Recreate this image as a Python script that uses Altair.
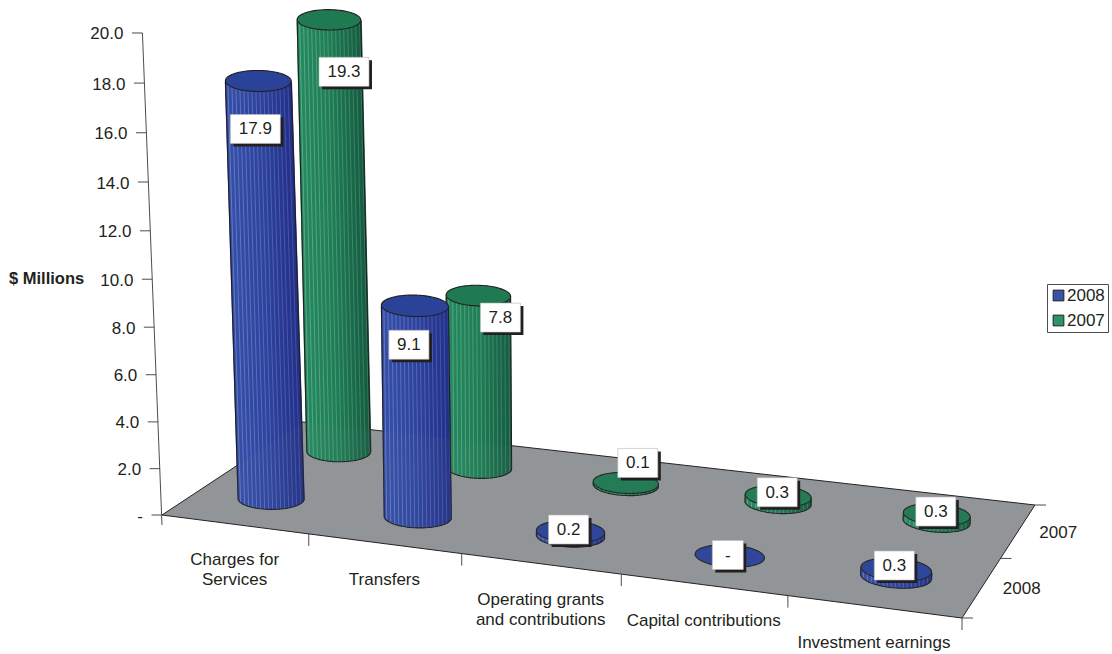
import altair as alt
import numpy as np
import pandas as pd

# Chart values
categories = [["Charges for", "Services"], ["Transfers"],
              ["Operating grants", "and contributions"],
              ["Capital contributions"], ["Investment earnings"]]
series_names = ["2008", "2007"]
values_2008 = [17.9, 9.1, 0.2, 0.0, 0.3]
values_2007 = [19.3, 7.8, 0.1, 0.3, 0.3]
axis_ticks = [0, 2, 4, 6, 8, 10, 12, 14, 16, 18, 20]

# Nudges that keep each value box clear of its column top
box_nudge_2008 = [(-3, 48), (-6, 39), (-2, -2), (-2, -1), (-2, -4)]
box_nudge_2007 = [(15, 52), (22, 22), (12, -20), (-1, -4), (-1, -3)]

W, H = 1112, 654
FONT = "Liberation Sans"
INK = "#231f20"
FLOOR = "#939598"
FONT_SIZE = 17

# Camera: floor plane (u = category, w = series) to canvas, then a vertical column
floor_src = [(0, 0), (5, 0), (5, 2), (0, 2)]
floor_dst = [(162, 515), (962, 618), (1035, 505), (303, 422)]


def homography(src, dst):
    rows, rhs = [], []
    for (u, w), (x, y) in zip(src, dst):
        rows.append([u, w, 1, 0, 0, 0, -x * u, -x * w])
        rows.append([0, 0, 0, u, w, 1, -y * u, -y * w])
        rhs += [x, y]
    h = np.linalg.solve(np.array(rows, float), np.array(rhs, float))
    return np.append(h, 1).reshape(3, 3)


HOM = homography(floor_src, floor_dst)


def fit_vertical(refs):
    rows, rhs = [], []
    for u, w, v, x, y in refs:
        p = np.array([u, w, 1.0])
        rows.append([v, 0, -x * v])
        rhs.append(x * HOM[2] @ p - HOM[0] @ p)
        rows.append([0, v, -y * v])
        rhs.append(y * HOM[2] @ p - HOM[1] @ p)
    return np.linalg.lstsq(np.array(rows), np.array(rhs), rcond=None)[0]


# Columns and the value axis each get their own vertical calibration
VERT = fit_vertical([(.5, .5, 17.9, 258, 81), (.5, 1.5, 19.3, 329, 20),
                     (1.5, .5, 9.1, 415, 305), (1.5, 1.5, 7.8, 479, 296)])
AXIS_VERT = fit_vertical([(0, 0, 20, 143, 33), (0, 0, 14, 147.5, 182),
                          (0, 0, 10, 152.5, 279), (0, 0, 6, 156.5, 375)])


def project(u, w, v=0.0, col=VERT):
    q = HOM @ np.array([u, w, 1.0]) + col * v
    return q[0] / q[2], q[1] / q[2]


def mix(a, b, t):
    return tuple(a[i] + (b[i] - a[i]) * t for i in range(3))


def hexcolor(c):
    return "#%02x%02x%02x" % tuple(int(round(i)) for i in c)


PALETTE = {
    "2008": dict(left=(54, 80, 168), mid=(46, 68, 158), right=(36, 48, 136),
                 glint=(150, 165, 225), cap="#2b4299", key="#3653a6", rx=(32.6, 0.6)),
    "2007": dict(left=(38, 138, 98), mid=(32, 125, 85), right=(22, 92, 66),
                 glint=(140, 205, 170), cap="#1f7a52", key="#2c9568", rx=(31.6, 0.4)),
}

walls, glints, outlines, caps, boxes = {}, {}, {}, {}, []
for series, vals, nudges, w in [("2007", values_2007, box_nudge_2007, 1.5),
                                ("2008", values_2008, box_nudge_2008, 0.5)]:
    pal = PALETTE[series]
    s_rows, g_rows, o_rows, c_rows = [], [], [], []
    for i, val in enumerate(vals):
        u = i + 0.5
        bx, by = project(u, w)
        tx, ty = project(u, w, val)
        rx = pal["rx"][0] + pal["rx"][1] * u
        ry = rx * 0.32
        slope = np.tan(np.radians(0.9 * u))
        cyl = f"{series}-{i}"
        # column wall as overlapping vertical strips, with a lighter glint every fourth
        if val > 0:
            for k, dx in enumerate(np.arange(-rx + 0.5, rx, 1.0)):
                f = dx / rx
                arc = ry * np.sqrt(max(0.0, 1 - f * f))
                t = (f + 1) / 2
                base = mix(pal["left"], pal["mid"], t * 2) if t < .5 else mix(pal["mid"], pal["right"], t * 2 - 1)
                seg = dict(x=tx + dx, y=ty + slope * dx + arc,
                           x2=bx + dx, y2=by + slope * dx + arc, c=hexcolor(base))
                s_rows.append(seg)
                if k % 4 == 2:
                    g_rows.append(dict(seg, c=hexcolor(mix(base, pal["glint"], 0.5 - 0.25 * t))))
            # silhouette: down the left side, along the base arc, up the right side
            path = [(tx - rx, ty - slope * rx)]
            for a in np.linspace(np.pi, 0, 41):
                dx = rx * np.cos(a)
                path.append((bx + dx, by + slope * dx + ry * np.sin(a)))
            path.append((tx + rx, ty + slope * rx))
            o_rows += [dict(x=p[0], y=p[1], o=n, cyl=cyl) for n, p in enumerate(path)]
        # cap ellipse
        for a in np.linspace(np.pi, 0, 61):
            dx = rx * np.cos(a)
            arc = ry * np.sin(a)
            c_rows.append(dict(x=tx + dx, yt=ty + slope * dx - arc, yb=ty + slope * dx + arc,
                               cyl=cyl, c=pal["cap"]))
        # value box
        cx, cy = tx + nudges[i][0], ty + nudges[i][1]
        text = "-" if val == 0 else f"{val:.1f}"
        half = 15.5 if val == 0 else (25 if val >= 10 else 20)
        boxes.append(dict(x=cx - half, x2=cx + half, y=cy - 14.5, y2=cy + 14.5,
                          sx=cx - half + 3, sx2=cx + half + 3, sy=cy - 14.5 + 3, sy2=cy + 14.5 + 3,
                          cx=cx, cy=cy + 0.5, text=text))
    walls[series] = pd.DataFrame(s_rows)
    glints[series] = pd.DataFrame(g_rows)
    outlines[series] = pd.DataFrame(o_rows)
    caps[series] = pd.DataFrame(c_rows)
boxes = pd.DataFrame(boxes)

# Canvas-sized linear scales so that projected positions land one to one
XS = alt.Scale(domain=[0, W], range=[0, W], nice=False, zero=False)
YS = alt.Scale(domain=[0, H], range=[0, H], nice=False, zero=False)
qx = lambda f="x": alt.X(f, type="quantitative", scale=XS, axis=None)
qy = lambda f="y": alt.Y(f, type="quantitative", scale=YS, axis=None)
x2 = alt.X2("x2")
y2 = alt.Y2("y2")

# Floor polygon, expressed as the band between its upper and lower boundaries
corners = [project(*c) for c in floor_src]
fx = sorted(c[0] for c in corners)
A, B, C, D = corners
floor_df = pd.DataFrame({
    "x": fx,
    "yt": np.interp(fx, [A[0], D[0], C[0]], [A[1], D[1], C[1]]),
    "yb": np.interp(fx, [A[0], B[0], C[0]], [A[1], B[1], C[1]]),
})
floor = alt.Chart(floor_df).mark_area(orient="vertical", fill=FLOOR, stroke=INK, strokeWidth=1).encode(
    x=qx(), y=qy("yt"), y2=alt.Y2("yb"))
floor_veil = alt.Chart(floor_df).mark_area(orient="vertical", fill=FLOOR, opacity=0.05).encode(
    x=qx(), y=qy("yt"), y2=alt.Y2("yb"))

# Axis furniture
rules = []
def rule(p, q):
    rules.append(dict(x=p[0], y=p[1], x2=q[0], y2=q[1]))

ax_top, ax_bot = project(0, 0, 20, AXIS_VERT), project(0, 0, 0)
rule(ax_top, (ax_bot[0], ax_bot[1] + 10))
tick_labels = []
for v in axis_ticks:
    px, py = project(0, 0, v, AXIS_VERT)
    rule((px - 10.5, py), (px, py))
    tick_labels.append(dict(x=px - 19, y=py + 1.5, text="-" if v == 0 else f"{v:.1f}"))
for i in range(1, 6):
    px, py = project(i, 0)
    rule((px, py), (px, py + 12))
for j in range(0, 3):
    px, py = project(5, j)
    rule((px, py), (px + 11, py))
rules = pd.DataFrame(rules)
furniture = alt.Chart(rules).mark_rule(color="#4d4d4f", strokeWidth=1).encode(x=qx(), y=qy(), x2=x2, y2=y2)

# Text around the floor
center_labels = []
for i, lines in enumerate(categories):
    px, py = project(i + 0.5, 0)
    for n, line in enumerate(lines):
        center_labels.append(dict(x=px, y=py + 36 + 20 * n, text=line))
for w, name in [(0.5, "2008"), (1.5, "2007")]:
    px, py = project(5, w)
    center_labels.append(dict(x=px + 40, y=py + 2, text=name))

tick_text = alt.Chart(pd.DataFrame(tick_labels)).mark_text(
    font=FONT, fontSize=FONT_SIZE, color=INK, align="right", baseline="middle").encode(x=qx(), y=qy(), text="text:N")
center_text = alt.Chart(pd.DataFrame(center_labels)).mark_text(
    font=FONT, fontSize=FONT_SIZE, color=INK, align="center", baseline="middle").encode(x=qx(), y=qy(), text="text:N")
y_title = alt.Chart(pd.DataFrame([dict(x=9, y=279, text="$ Millions")])).mark_text(
    font=FONT, fontSize=16.5, fontWeight="bold", color=INK, align="left", baseline="middle").encode(
    x=qx(), y=qy(), text="text:N")

# Series key: a zero-size layer that only feeds the legend
key = alt.Chart(pd.DataFrame(dict(series=series_names, x=[0, 0], y=[0, 0]))).mark_square(size=0).encode(
    x=qx(), y=qy(),
    fill=alt.Fill("series:N",
                  scale=alt.Scale(domain=series_names, range=[PALETTE["2008"]["key"], PALETTE["2007"]["key"]]),
                  legend=alt.Legend(orient="none", legendX=1047, legendY=284, title=None,
                                    symbolType="square", symbolSize=115, symbolStrokeColor=INK,
                                    symbolStrokeWidth=1, symbolOpacity=1, labelFont=FONT,
                                    labelFontSize=FONT_SIZE, labelColor=INK, strokeColor="#4d4d4f",
                                    fillColor="white", padding=3, rowPadding=7, labelOffset=0)))


def series_layers(series):
    wall = alt.Chart(walls[series]).mark_rule(strokeWidth=2.2).encode(
        x=qx(), y=qy(), x2=x2, y2=y2, stroke=alt.Stroke("c:N", scale=None, legend=None))
    glint = alt.Chart(glints[series]).mark_rule(strokeWidth=1).encode(
        x=qx(), y=qy(), x2=x2, y2=y2, stroke=alt.Stroke("c:N", scale=None, legend=None))
    edge = alt.Chart(outlines[series]).mark_line(color=INK, strokeWidth=1.1).encode(
        x=qx(), y=qy(), detail="cyl:N", order="o:Q")
    cap = alt.Chart(caps[series]).mark_area(orient="vertical", stroke=INK, strokeWidth=1.1).encode(
        x=qx(), y=qy("yt"), y2=alt.Y2("yb"), fill=alt.Fill("c:N", scale=None, legend=None), detail="cyl:N")
    return [wall, glint, edge, cap]


shadow = alt.Chart(boxes).mark_rect(fill=INK).encode(
    x=qx("sx"), x2=alt.X2("sx2"), y=qy("sy"), y2=alt.Y2("sy2"))
box = alt.Chart(boxes).mark_rect(fill="white", stroke="#b5b5b5", strokeWidth=0.6).encode(
    x=qx(), x2=x2, y=qy(), y2=y2)
box_text = alt.Chart(boxes).mark_text(font=FONT, fontSize=FONT_SIZE, color=INK, baseline="middle").encode(
    x=qx("cx"), y=qy("cy"), text="text:N")

chart = alt.layer(
    floor, furniture, *series_layers("2007"), *series_layers("2008"), floor_veil,
    tick_text, center_text, y_title, shadow, box, box_text, key,
).resolve_scale(fill="independent", stroke="independent").properties(
    width=W, height=H, padding=0, autosize="none").configure_view(stroke=None)

chart.save("out.html", embed_options={"renderer": "svg", "actions": False})
